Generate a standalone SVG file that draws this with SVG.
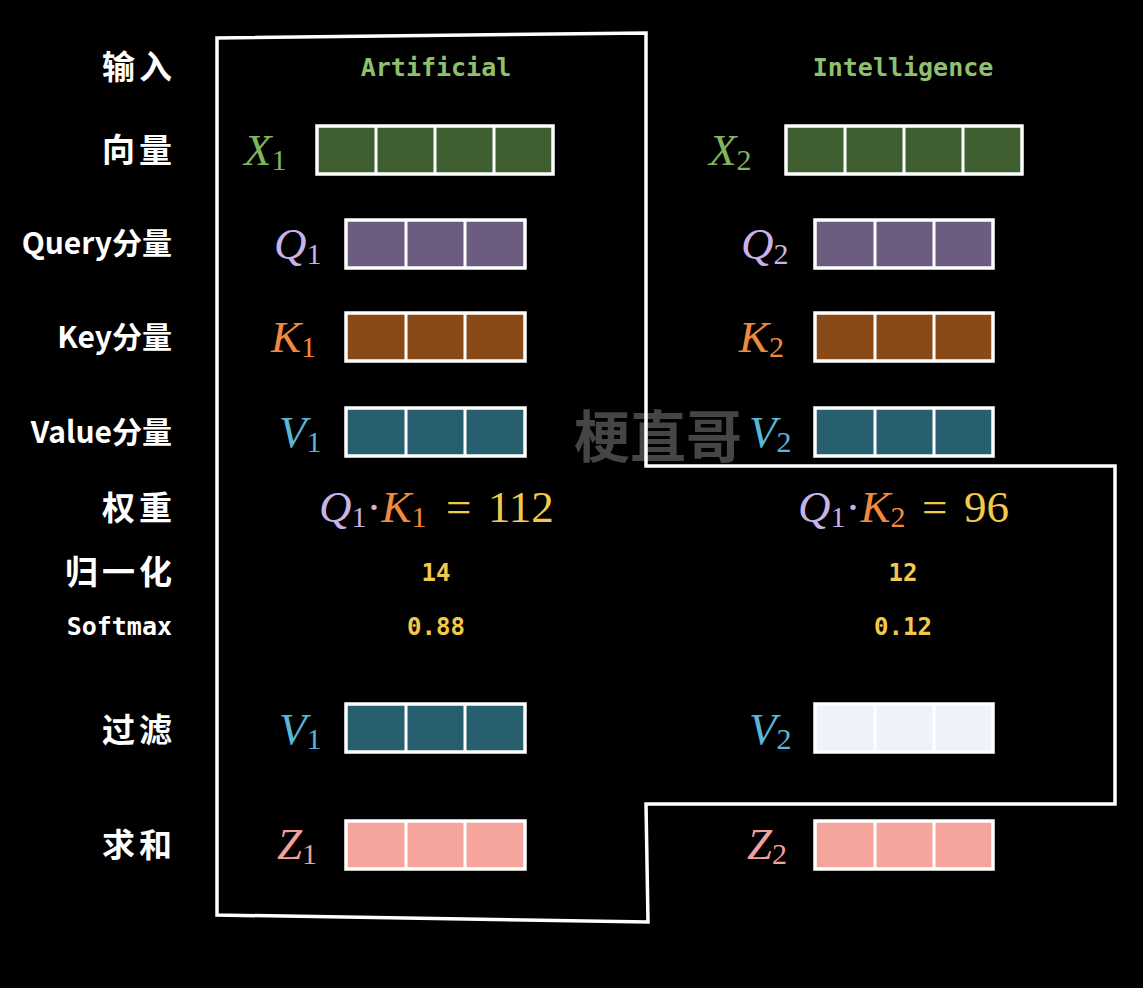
<svg xmlns="http://www.w3.org/2000/svg" width="1143" height="988" viewBox="0 0 1143 988">
<style>
.lbl{font-family:"Noto Sans CJK SC","Noto Sans",sans-serif;font-weight:700;font-size:30px;fill:#fff;text-anchor:end}
.zh{font-size:33px;letter-spacing:4px}
.lblm{font-family:"DejaVu Sans Mono","Liberation Mono",monospace;font-weight:700;font-size:25px;fill:#fff;text-anchor:end}
.word{font-family:"DejaVu Sans Mono","Liberation Mono",monospace;font-weight:700;font-size:25px;fill:#8fc06e;text-anchor:middle}
.num{font-family:"DejaVu Sans Mono","Liberation Mono",monospace;font-weight:700;font-size:24px;fill:#f2c94c;text-anchor:middle}
.m{font-family:"Liberation Serif","DejaVu Serif",serif;font-size:45px}
.it{font-style:italic}
.sub{font-size:30px;font-style:normal}
.bar{stroke:#fff;stroke-width:3.5}
.div{stroke:#fff;stroke-width:3}
.cx{fill:#7fb55e}.cq{fill:#c9b3e6}.ck{fill:#f08a3c}.cv{fill:#5ab6d9}.cz{fill:#f2a09a}.cn{fill:#f2c94c}
.wm{font-family:"Noto Sans CJK SC",sans-serif;font-weight:700;font-size:56px;fill:#454545;text-anchor:middle}
</style>
<rect width="1143" height="988" fill="#000"/>
<text class="wm" x="658" y="457">梗直哥</text>
<g id="outline"><polygon points="217,38 646,33 646,466 1115,466 1115,804 646,804 648,922 217,915" fill="none" stroke="#fff" stroke-width="3.5"/></g>
<g id="row-labels">
<text class="lbl zh" x="176" y="79">输入</text>
<text class="lbl zh" x="176" y="162">向量</text>
<text class="lbl" x="172" y="254">Query分量</text>
<text class="lbl" x="172" y="348">Key分量</text>
<text class="lbl" x="172" y="443">Value分量</text>
<text class="lbl zh" x="176" y="520">权重</text>
<text class="lbl zh" x="176" y="584">归一化</text>
<text class="lblm" x="172" y="635">Softmax</text>
<text class="lbl zh" x="176" y="742">过滤</text>
<text class="lbl zh" x="176" y="857">求和</text>
</g>
<g id="col1">
<text class="word" x="436" y="76">Artificial</text>
<g id="x1"><text class="m cx" x="244" y="165"><tspan class="it">X</tspan><tspan class="sub" dy="5">1</tspan></text>
<rect class="bar" x="317" y="126" width="236" height="48" fill="#3f5f31"/><path class="div" d="M376,126V174M435,126V174M494,126V174"/></g>
<g id="q1"><text class="m cq" x="274" y="259"><tspan class="it">Q</tspan><tspan class="sub" dy="5">1</tspan></text>
<rect class="bar" x="346" y="220" width="179" height="48" fill="#6b5c80"/><path class="div" d="M406,220V268M465,220V268"/></g>
<g id="k1"><text class="m ck" x="271" y="352"><tspan class="it">K</tspan><tspan class="sub" dy="5">1</tspan></text>
<rect class="bar" x="346" y="313" width="179" height="48" fill="#8a4a17"/><path class="div" d="M406,313V361M465,313V361"/></g>
<g id="v1"><text class="m cv" x="279" y="447"><tspan class="it">V</tspan><tspan class="sub" dy="5">1</tspan></text>
<rect class="bar" x="346" y="408" width="179" height="48" fill="#275f6f"/><path class="div" d="M406,408V456M465,408V456"/></g>
<g id="w1"><text class="m" x="319" y="522"><tspan class="it cq">Q</tspan><tspan class="sub cq" dy="5">1</tspan><tspan class="cq" dy="-5">·</tspan><tspan class="it ck">K</tspan><tspan class="sub ck" dy="5">1</tspan><tspan class="cn" x="446" dy="-5">=</tspan><tspan class="cn" x="488">112</tspan></text></g>
<text class="num" x="436" y="581">14</text>
<text class="num" x="436" y="635">0.88</text>
<g id="f1"><text class="m cv" x="279" y="744"><tspan class="it">V</tspan><tspan class="sub" dy="5">1</tspan></text>
<rect class="bar" x="346" y="704" width="179" height="48" fill="#275f6f"/><path class="div" d="M406,704V752M465,704V752"/></g>
<g id="z1"><text class="m cz" x="277" y="859"><tspan class="it">Z</tspan><tspan class="sub" dy="5">1</tspan></text>
<rect class="bar" x="346" y="821" width="179" height="48" fill="#f5a59c"/><path class="div" d="M406,821V869M465,821V869"/></g>
</g>
<g id="col2">
<text class="word" x="903" y="76">Intelligence</text>
<g id="x2"><text class="m cx" x="709" y="165"><tspan class="it">X</tspan><tspan class="sub" dy="5">2</tspan></text>
<rect class="bar" x="786" y="126" width="236" height="48" fill="#3f5f31"/><path class="div" d="M845,126V174M904,126V174M963,126V174"/></g>
<g id="q2"><text class="m cq" x="741" y="259"><tspan class="it">Q</tspan><tspan class="sub" dy="5">2</tspan></text>
<rect class="bar" x="815" y="220" width="178" height="48" fill="#6b5c80"/><path class="div" d="M875,220V268M934,220V268"/></g>
<g id="k2"><text class="m ck" x="739" y="352"><tspan class="it">K</tspan><tspan class="sub" dy="5">2</tspan></text>
<rect class="bar" x="815" y="313" width="178" height="48" fill="#8a4a17"/><path class="div" d="M875,313V361M934,313V361"/></g>
<g id="v2"><text class="m cv" x="749" y="447"><tspan class="it">V</tspan><tspan class="sub" dy="5">2</tspan></text>
<rect class="bar" x="815" y="408" width="178" height="48" fill="#275f6f"/><path class="div" d="M875,408V456M934,408V456"/></g>
<g id="w2"><text class="m" x="798" y="522"><tspan class="it cq">Q</tspan><tspan class="sub cq" dy="5">1</tspan><tspan class="cq" dy="-5">·</tspan><tspan class="it ck">K</tspan><tspan class="sub ck" dy="5">2</tspan><tspan class="cn" x="922" dy="-5">=</tspan><tspan class="cn" x="964">96</tspan></text></g>
<text class="num" x="903" y="581">12</text>
<text class="num" x="903" y="635">0.12</text>
<g id="f2"><text class="m cv" x="749" y="744"><tspan class="it">V</tspan><tspan class="sub" dy="5">2</tspan></text>
<rect class="bar" x="815" y="704" width="178" height="48" fill="#eef3fb"/><path class="div" d="M875,704V752M934,704V752"/></g>
<g id="z2"><text class="m cz" x="747" y="859"><tspan class="it">Z</tspan><tspan class="sub" dy="5">2</tspan></text>
<rect class="bar" x="815" y="821" width="178" height="48" fill="#f5a59c"/><path class="div" d="M875,821V869M934,821V869"/></g>
</g>
</svg>
